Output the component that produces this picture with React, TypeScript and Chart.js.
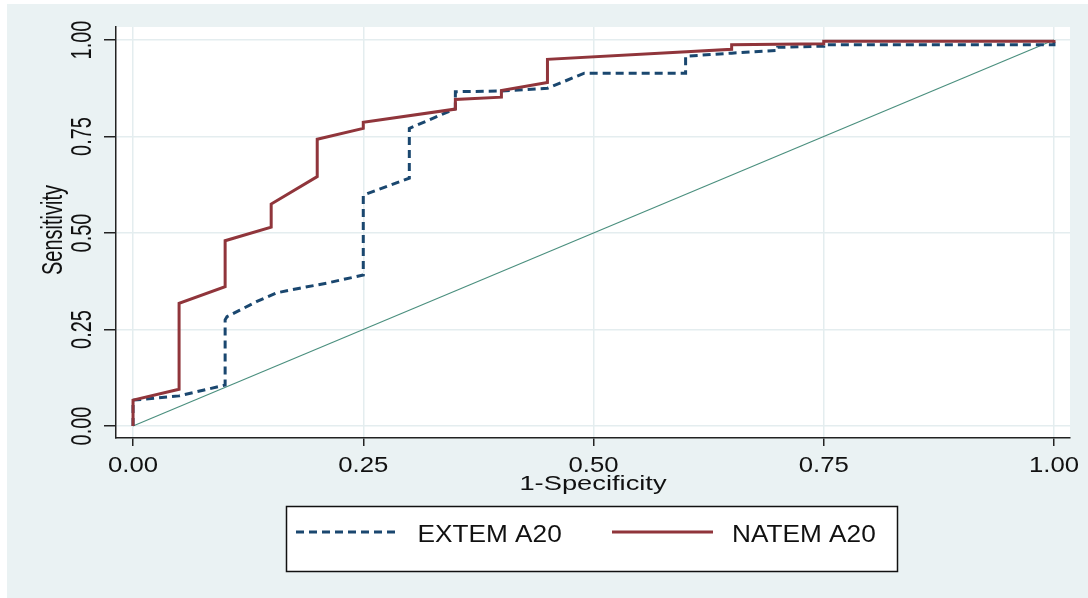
import React, { useEffect, useRef } from 'react';
import { Chart, registerables } from 'chart.js';

Chart.register(...registerables);

// ---- data ----
const tickValues = [0, 0.25, 0.5, 0.75, 1];
const tickLabels = ['0.00', '0.25', '0.50', '0.75', '1.00'];

const extemX = [0, 0, 0.05, 0.1, 0.1, 0.102, 0.116, 0.134, 0.156, 0.181, 0.21, 0.25, 0.25, 0.3, 0.3, 0.35, 0.35, 0.4, 0.45, 0.49, 0.6, 0.6, 0.65, 0.7, 0.7, 0.75, 0.75, 1, 1];
const extemY = [0, 0.067, 0.078, 0.106, 0.275, 0.283, 0.3, 0.322, 0.345, 0.357, 0.37, 0.391, 0.598, 0.642, 0.771, 0.822, 0.866, 0.868, 0.875, 0.914, 0.914, 0.958, 0.966, 0.973, 0.981, 0.984, 0.988, 0.988, 1];

const natemX = [0, 0, 0.05, 0.05, 0.1, 0.1, 0.15, 0.15, 0.2, 0.2, 0.25, 0.25, 0.35, 0.35, 0.4, 0.4, 0.45, 0.45, 0.65, 0.65, 0.75, 0.75, 1, 1];
const natemY = [0, 0.067, 0.095, 0.318, 0.361, 0.48, 0.515, 0.575, 0.646, 0.743, 0.771, 0.787, 0.821, 0.846, 0.852, 0.869, 0.89, 0.95, 0.976, 0.988, 0.99, 0.997, 0.997, 1];

const refX = [0, 1];
const refY = [0, 1];

const seriesNames = ['EXTEM A20', 'NATEM A20'];
const xTitle = '1-Specificity';
const yTitle = 'Sensitivity';

const NAVY = '#1A476F';
const MAROON = '#90353B';
const REF = '#4A8F7E';
const BG = '#EAF2F3';
const GRID = '#E4EDEF';
const INK = '#111111';
const FONT = '"Liberation Sans", Arial, sans-serif';

function stretchText(
  ctx: CanvasRenderingContext2D,
  text: string,
  x: number,
  y: number,
  size: number,
  sx: number,
  sy: number,
  rot: number,
  align: CanvasTextAlign
) {
  ctx.save();
  ctx.translate(x, y);
  if (rot) ctx.rotate(rot);
  ctx.scale(sx, sy);
  ctx.font = `${size}px ${FONT}`;
  ctx.fillStyle = INK;
  ctx.textAlign = align;
  ctx.textBaseline = 'alphabetic';
  ctx.fillText(text, 0, 0);
  ctx.restore();
}

const bgPlugin = {
  id: 'stataBg',
  beforeDraw(chart: any) {
    const ctx = chart.ctx as CanvasRenderingContext2D;
    const { width, height } = chart;
    const a = chart.chartArea;
    ctx.save();
    ctx.fillStyle = '#ffffff';
    ctx.fillRect(0, 0, width, height);
    ctx.fillStyle = BG;
    ctx.fillRect(7, 4, width - 7, height - 4);
    ctx.fillStyle = '#ffffff';
    ctx.fillRect(a.left, a.top, a.right - a.left, a.bottom - a.top);
    ctx.restore();
  },
};

const textPlugin = {
  id: 'stataText',
  afterDraw(chart: any) {
    const ctx = chart.ctx as CanvasRenderingContext2D;
    const xs = chart.scales.x;
    const ys = chart.scales.y;
    const a = chart.chartArea;

    // x tick labels
    tickValues.forEach((v, i) => {
      stretchText(ctx, tickLabels[i], xs.getPixelForValue(v), 471.5, 22, 1.17, 1, 0, 'center');
    });
    // x title
    stretchText(ctx, xTitle, (a.left + a.right) / 2, 489.5, 21, 1.3, 1, 0, 'center');

    // y tick labels (rotated)
    tickValues.forEach((v, i) => {
      stretchText(ctx, tickLabels[i], 91, ys.getPixelForValue(v), 20, 1, 1.5, -Math.PI / 2, 'center');
    });
    // y title
    stretchText(ctx, yTitle, 61.5, 230, 20, 1, 1.5, -Math.PI / 2, 'center');

    // legend
    ctx.save();
    ctx.fillStyle = '#ffffff';
    ctx.fillRect(286.5, 506.5, 611, 65);
    ctx.strokeStyle = INK;
    ctx.lineWidth = 1.5;
    ctx.strokeRect(286.5, 506.5, 611, 65);

    const ds = chart.data.datasets;
    const samples = [
      { x1: 296, x2: 399, tx: 417.5, d: ds[0] },
      { x1: 612, x2: 713, tx: 732, d: ds[1] },
    ];
    samples.forEach((s) => {
      ctx.save();
      ctx.strokeStyle = s.d.borderColor;
      ctx.lineWidth = s.d.borderWidth;
      ctx.setLineDash(s.d.borderDash || []);
      ctx.beginPath();
      ctx.moveTo(s.x1, 532);
      ctx.lineTo(s.x2, 532);
      ctx.stroke();
      ctx.restore();
      stretchText(ctx, s.d.label, s.tx, 541.5, 23, 1.14, 1, 0, 'left');
    });
    ctx.restore();
  },
};

function toPoints(xs: number[], ys: number[]) {
  return xs.map((x, i) => ({ x, y: ys[i] }));
}

export default function App() {
  const ref = useRef<HTMLCanvasElement | null>(null);

  useEffect(() => {
    const canvas = ref.current;
    if (!canvas) return;
    const chart = new Chart(canvas, {
      type: 'line',
      data: {
        datasets: [
          {
            label: seriesNames[0],
            data: toPoints(extemX, extemY),
            borderColor: NAVY,
            backgroundColor: NAVY,
            borderWidth: 3,
            borderDash: [8, 5],
            pointRadius: 0,
            pointHoverRadius: 0,
            tension: 0,
            fill: false,
            order: 1,
          },
          {
            label: seriesNames[1],
            data: toPoints(natemX, natemY),
            borderColor: MAROON,
            backgroundColor: MAROON,
            borderWidth: 3,
            pointRadius: 0,
            pointHoverRadius: 0,
            tension: 0,
            fill: false,
            order: 0,
          },
          {
            label: 'Reference',
            data: toPoints(refX, refY),
            borderColor: REF,
            backgroundColor: REF,
            borderWidth: 1.2,
            pointRadius: 0,
            pointHoverRadius: 0,
            tension: 0,
            fill: false,
            order: 2,
          },
        ] as any,
      },
      options: {
        animation: false,
        responsive: false,
        events: [],
        layout: { padding: { left: 0, top: 27, right: 18, bottom: 0 } },
        plugins: {
          legend: { display: false },
          tooltip: { enabled: false },
          title: { display: false },
        },
        scales: {
          x: {
            type: 'linear',
            min: -0.0185,
            max: 1.0174,
            afterBuildTicks: (s: any) => {
              s.ticks = tickValues.map((v) => ({ value: v }));
            },
            afterFit: (s: any) => {
              s.height = 160;
            },
            ticks: { display: false },
            grid: {
              color: GRID,
              lineWidth: 1.5,
              drawTicks: true,
              tickLength: 8,
              tickColor: '#222222',
              tickWidth: 1.5,
            },
            border: { display: true, color: '#222222', width: 1.5 },
          },
          y: {
            type: 'linear',
            min: -0.0311,
            max: 1.0337,
            afterBuildTicks: (s: any) => {
              s.ticks = tickValues.map((v) => ({ value: v }));
            },
            afterFit: (s: any) => {
              s.width = 116;
            },
            ticks: { display: false },
            grid: {
              color: GRID,
              lineWidth: 1.5,
              drawTicks: true,
              tickLength: 12,
              tickColor: '#222222',
              tickWidth: 1.5,
            },
            border: { display: true, color: '#222222', width: 1.5 },
          },
        },
      } as any,
      plugins: [bgPlugin, textPlugin],
    });
    return () => chart.destroy();
  }, []);

  return (
    <div style={{ position: 'absolute', left: 0, top: 0, width: 1088, height: 598 }}>
      <canvas ref={ref} width={1088} height={598} style={{ width: 1088, height: 598, display: 'block' }} />
    </div>
  );
}
